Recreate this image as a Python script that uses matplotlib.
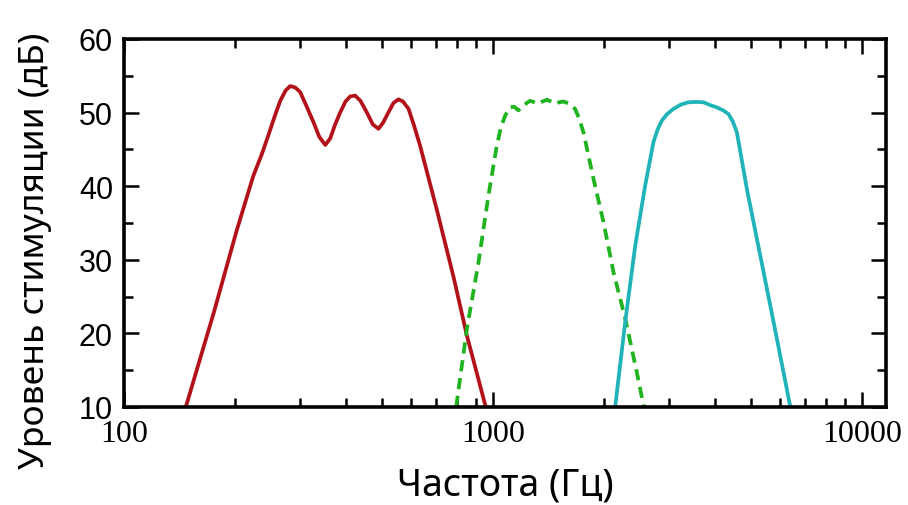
import matplotlib
matplotlib.use("Agg")
import matplotlib.pyplot as plt
from matplotlib.ticker import FixedLocator, NullFormatter, MultipleLocator

# значения (частота в Гц, уровень в дБ)
red_f = [147, 175, 202, 224, 236, 246, 256, 265, 274, 282, 291, 300, 312, 326,
         338, 351, 362, 372, 385, 398, 410, 423, 437, 455, 472, 489, 503, 520,
         537, 554, 570, 590, 610, 634, 703, 780, 849, 955]
red_db = [10.0, 22.8, 34.0, 41.4, 44.3, 46.9, 49.5, 51.6, 53.0, 53.6, 53.4, 52.8,
          50.9, 48.7, 46.7, 45.6, 46.5, 48.2, 50.0, 51.5, 52.2, 52.3, 51.6, 50.0,
          48.4, 47.8, 48.6, 50.0, 51.3, 51.8, 51.5, 50.5, 48.3, 45.5, 36.9, 27.8,
          19.7, 10.0]

green_f = [794, 849, 913, 971, 1023, 1050, 1078, 1111, 1140, 1171, 1210, 1259,
           1295, 1327, 1360, 1398, 1435, 1472, 1510, 1550, 1610, 1667, 1710, 1757,
           1870, 1991, 2119, 2280, 2451, 2560]
green_db = [10.0, 20.6, 29.7, 38.7, 45.5, 48.0, 49.6, 50.7, 50.8, 50.3, 51.0, 51.6,
            51.4, 51.2, 51.5, 51.75, 51.5, 51.2, 51.4, 51.5, 51.2, 50.5, 49.2, 47.3,
            41.0, 35.1, 28.3, 22.0, 14.7, 10.0]

cyan_f = [2141, 2279, 2426, 2582, 2719, 2790, 2864, 2960, 3080, 3230, 3384, 3550,
          3716, 3880, 4039, 4200, 4343, 4460, 4575, 4700, 4870, 5292, 5754, 6386]
cyan_db = [10.0, 21.5, 31.9, 40.1, 46.0, 47.7, 48.9, 49.8, 50.5, 51.1, 51.4, 51.45,
           51.4, 51.0, 50.7, 50.3, 49.8, 48.8, 47.3, 44.0, 39.6, 30.6, 21.5, 10.0]

x_major = [100, 1000, 10000]
x_labels = ["100", "1000", "10000"]
x_minor = [200, 300, 400, 500, 600, 700, 800, 900,
           2000, 3000, 4000, 5000, 6000, 7000, 8000, 9000]
y_major = [10, 20, 30, 40, 50, 60]

fig = plt.figure(figsize=(9.08, 5.06), dpi=100)
ax = fig.add_axes([0.1366, 0.1937, 0.8392, 0.7273])

ax.plot(red_f, red_db, color="#b3121a", lw=2.7, solid_joinstyle="round")
ax.plot(green_f, green_db, color="#1fb31f", lw=2.7, ls=(0, (3.0, 1.8)),
        dash_joinstyle="round")
ax.plot(cyan_f, cyan_db, color="#20b3b8", lw=2.7, solid_joinstyle="round")

ax.set_xscale("log")
ax.set_xlim(100, 11600)
ax.set_ylim(10, 60)

ax.xaxis.set_major_locator(FixedLocator(x_major))
ax.xaxis.set_minor_locator(FixedLocator(x_minor))
ax.xaxis.set_minor_formatter(NullFormatter())
ax.set_xticks(x_major)
ax.set_xticklabels(x_labels, fontfamily="Liberation Serif", fontsize=23)
ax.set_yticks(y_major)
ax.yaxis.set_minor_locator(MultipleLocator(5))
for lab in ax.get_yticklabels():
    lab.set_fontfamily("Liberation Sans")
    lab.set_fontsize(22)

ax.tick_params(which="both", direction="in", top=True, right=True, width=1.8)
ax.tick_params(which="major", length=10.5)
ax.tick_params(which="minor", length=6.5)
ax.tick_params(axis="x", which="major", pad=9)
ax.tick_params(axis="y", which="major", pad=8)

for sp in ax.spines.values():
    sp.set_linewidth(2.6)

ax.set_xlabel("Частота (Гц)", fontfamily="Noto Sans", fontsize=27, labelpad=12)
ax.set_ylabel("Уровень стимуляции (дБ)", fontfamily="Noto Sans", fontsize=25.5)
ax.yaxis.set_label_coords(-0.094, 0.427)

fig.savefig("out.png", dpi=100, facecolor="white")
